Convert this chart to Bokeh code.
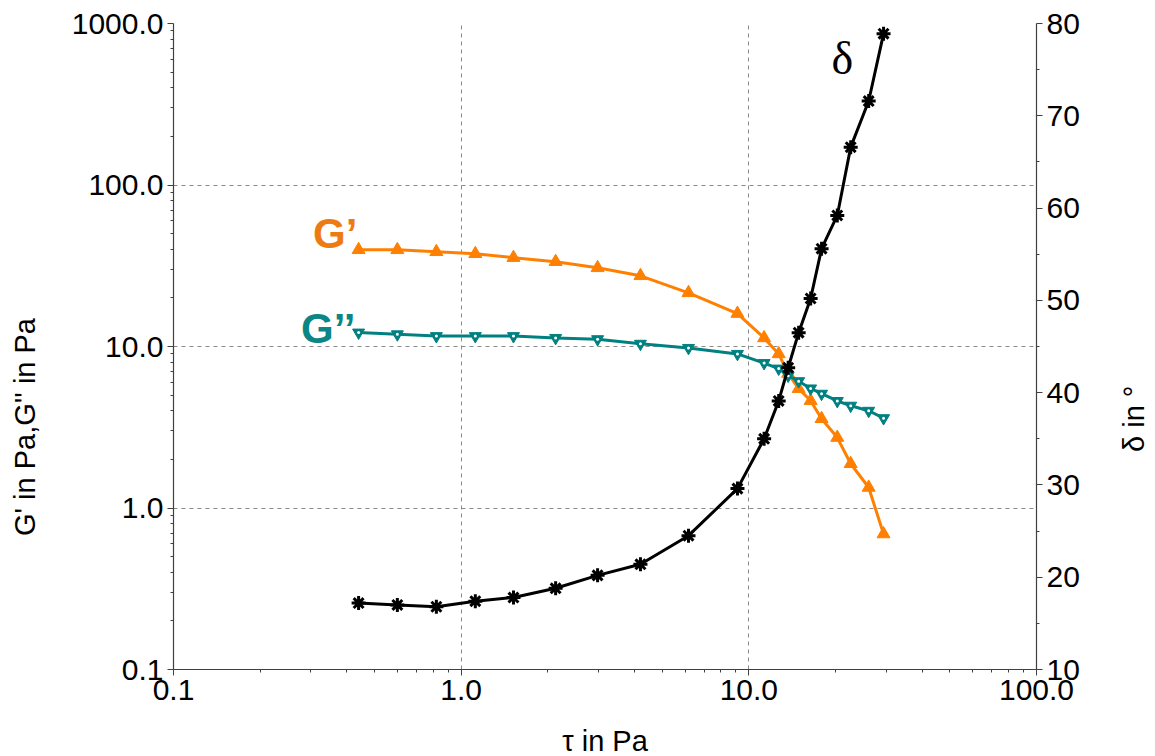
import math
import numpy as np
from bokeh.plotting import figure
from bokeh.models import (Range1d, LinearAxis, FixedTicker, Label,
                          NumeralTickFormatter, LinearScale)
from bokeh.embed import file_html
from bokeh.resources import INLINE

# ---- data ----
tau = [0.44, 0.60, 0.82, 1.12, 1.52, 2.13, 2.98, 4.20, 6.17, 9.13,
       11.3, 12.7, 13.7, 14.9, 16.4, 17.9, 20.3, 22.6, 26.1, 29.4]
g_storage = [39.7, 39.7, 38.6, 37.5, 35.5, 33.5, 30.7, 27.4, 21.5, 16.0,
             11.3, 9.0, 6.8, 5.48, 4.62, 3.57, 2.73, 1.88, 1.34, 0.69]
g_loss = [12.2, 11.9, 11.6, 11.6, 11.6, 11.3, 11.1, 10.4, 9.8, 9.0,
          7.9, 7.3, 6.6, 6.1, 5.5, 5.1, 4.6, 4.3, 4.0, 3.6]
delta = [17.2, 17.0, 16.8, 17.4, 17.8, 18.8, 20.2, 21.4, 24.5, 29.6,
         35.0, 39.1, 42.7, 46.5, 50.2, 55.6, 59.2, 66.6, 71.6, 78.9]

x_ticks = [0.1, 1.0, 10.0, 100.0]
y_ticks = [0.1, 1.0, 10.0, 100.0, 1000.0]
d_ticks = [10, 20, 30, 40, 50, 60, 70, 80]
d_minor = [15, 25, 35, 45, 55, 65, 75]
x_minor = [m * 10.0 ** e for e in (-1, 0, 1) for m in range(2, 10)]
y_minor = [m * 10.0 ** e for e in (-1, 0, 1, 2) for m in range(2, 10)]

ORANGE = "#FF8000"
ORANGE_TXT = "#EE7A12"
TEAL = "#008080"
TEAL_TXT = "#0B8585"
AXIS = "#404040"
FONT = "Liberation Sans"
NB = "\u00a0"

p = figure(x_axis_type="log", y_axis_type="log",
           x_range=Range1d(0.1, 100), y_range=Range1d(0.1, 1000),
           frame_width=863, frame_height=646,
           min_border_left=173, min_border_right=119,
           min_border_top=23, min_border_bottom=87,
           output_backend="svg", toolbar_location=None,
           outline_line_color=None, background_fill_color="white",
           border_fill_color="white")

p.extra_y_ranges = {"delta": Range1d(10, 80)}
p.extra_y_scales = {"delta": LinearScale()}
raxis = LinearAxis(y_range_name="delta",
                   ticker=FixedTicker(ticks=d_ticks, minor_ticks=d_minor))
p.add_layout(raxis, "right")

p.xaxis.ticker = FixedTicker(ticks=x_ticks, minor_ticks=x_minor)
p.yaxis[0].ticker = FixedTicker(ticks=y_ticks, minor_ticks=y_minor)
p.xaxis.formatter = NumeralTickFormatter(format="0.0")
p.yaxis[0].formatter = NumeralTickFormatter(format="0.0")

p.xgrid.ticker = FixedTicker(ticks=x_ticks)
p.ygrid.ticker = FixedTicker(ticks=y_ticks)
for g in (p.xgrid, p.ygrid):
    g.grid_line_color = "#8a8a8a"
    g.grid_line_dash = "4 4"
    g.grid_line_width = 1

for ax in p.axis:
    ax.axis_line_color = AXIS
    ax.axis_line_width = 1.2
    ax.major_tick_line_color = AXIS
    ax.minor_tick_line_color = AXIS
    ax.major_tick_out = 6
    ax.major_tick_in = 0
    ax.minor_tick_out = 3
    ax.minor_tick_in = 0
    ax.major_label_text_font = FONT
    ax.major_label_text_font_size = "30px"
    ax.major_label_text_color = "black"
    ax.major_label_standoff = 4

# bottom title
p.xaxis.axis_label = "τ in Pa"
p.xaxis.axis_label_text_font = FONT
p.xaxis.axis_label_text_font_size = "29px"
p.xaxis.axis_label_text_font_style = "normal"
p.xaxis.axis_label_text_color = "black"
p.xaxis.axis_label_standoff = 22

PROPS = LinearAxis.properties()


def title_axis(text, side, standoff, orientation=None, range_name=None):
    kw = {} if range_name is None else {"y_range_name": range_name}
    ax = LinearAxis(ticker=FixedTicker(ticks=[]),
                    axis_line_color=None, major_tick_out=0, major_tick_in=0,
                    minor_tick_out=0, minor_tick_in=0,
                    major_label_text_font_size="0px",
                    axis_label=text, axis_label_text_font=FONT,
                    axis_label_text_font_size="29px",
                    axis_label_text_font_style="normal",
                    axis_label_text_color="black",
                    axis_label_standoff=standoff, **kw)
    if orientation is not None and "axis_label_orientation" in PROPS:
        ax.axis_label_orientation = orientation
    p.add_layout(ax, side)
    return ax


# side titles sit a little below the middle of the frame, as in the reference
title_axis("G' in Pa,G'' in Pa" + NB * 20, "left", 28)

right_text = "δ in °"
rt = title_axis(right_text, "right", 51, orientation=math.pi / 2,
                range_name="delta")
if "axis_label_align" in PROPS:
    ok = False
    for v in ("start", "left"):
        try:
            rt.axis_label_align = v
            ok = True
            break
        except Exception:
            pass
    if ok:
        rt.axis_label = NB * 27 + right_text

# ---- series ----
p.line(tau, g_storage, line_color=ORANGE, line_width=3)
p.scatter(tau, g_storage, marker="triangle", size=13,
          fill_color=ORANGE, line_color=ORANGE)

p.line(tau, g_loss, line_color=TEAL, line_width=3)
p.scatter(tau, g_loss, marker="inverted_triangle", size=12,
          fill_color=TEAL, line_color=TEAL)
p.scatter(tau, g_loss, marker="circle", size=3,
          fill_color="white", line_color=None)

p.line(tau, delta, y_range_name="delta", line_color="black", line_width=3)
p.scatter(tau, delta, y_range_name="delta", marker="asterisk",
          angle=np.pi / 2, size=14, line_color="black", line_width=3)

# ---- in-plot labels ----
p.add_layout(Label(x=0.365, y=49.9, text="G’", text_font=FONT,
                   text_font_size="42px", text_font_style="bold",
                   text_color=ORANGE_TXT, text_align="center",
                   text_baseline="middle"))
p.add_layout(Label(x=0.345, y=12.9, text="G’’", text_font=FONT,
                   text_font_size="42px", text_font_style="bold",
                   text_color=TEAL_TXT, text_align="center",
                   text_baseline="middle"))
p.add_layout(Label(x=21.15, y=604, text="δ", text_font="Liberation Serif",
                   text_font_size="46px", text_color="black",
                   text_align="center", text_baseline="middle"))

open("out.html", "w").write(file_html(p, INLINE))
